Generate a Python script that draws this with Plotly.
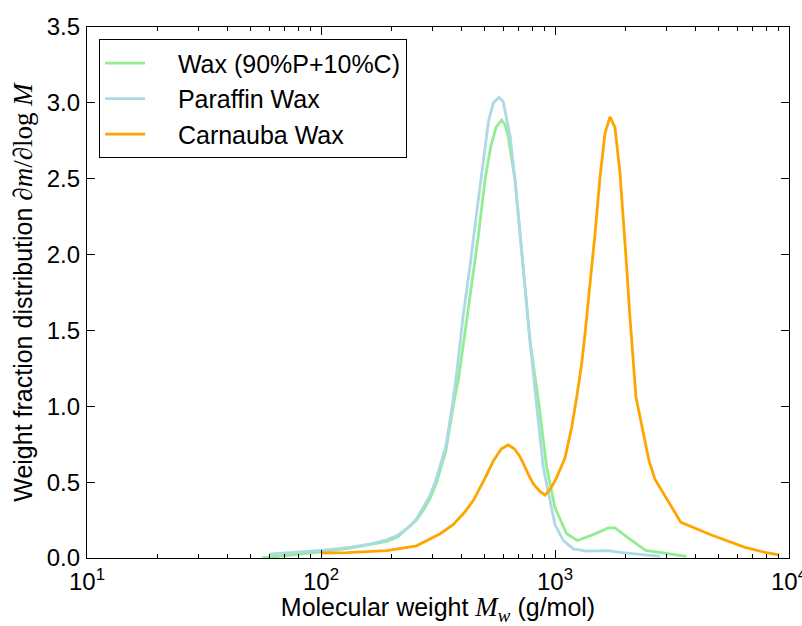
import plotly.graph_objects as go

# Molecular weight (g/mol) and weight-fraction distribution for each sample
mix_mw = [56, 100, 133, 191, 213, 256, 275, 292, 309, 341, 371, 386, 412, 440, 470,
          502, 531, 560, 591, 610, 631, 675, 708, 745, 782, 849, 921, 1000, 1122,
          1245, 1458, 1690, 1804, 2090, 2440, 3650]
mix_w = [0.0, 0.04, 0.065, 0.11, 0.14, 0.25, 0.32, 0.39, 0.48, 0.70, 1.04, 1.17, 1.48,
         1.79, 2.12, 2.49, 2.71, 2.84, 2.886, 2.86, 2.78, 2.49, 2.14, 1.79, 1.43, 1.04,
         0.60, 0.33, 0.16, 0.115, 0.154, 0.198, 0.198, 0.125, 0.05, 0.01]

paraffin_mw = [60, 100, 133, 160, 191, 213, 240, 256, 275, 292, 309, 325, 341, 362,
               380, 406, 433, 462, 494, 520, 545, 577, 600, 625, 643, 675, 708, 745,
               782, 830, 891, 952, 1000, 1086, 1197, 1365, 1690, 1897, 2810]
paraffin_w = [0.025, 0.05, 0.07, 0.09, 0.12, 0.15, 0.21, 0.26, 0.34, 0.41, 0.51, 0.62,
              0.73, 0.98, 1.22, 1.61, 1.92, 2.27, 2.62, 2.88, 3.0, 3.036, 3.01, 2.88,
              2.78, 2.49, 2.14, 1.79, 1.43, 1.04, 0.60, 0.38, 0.22, 0.115, 0.06, 0.045,
              0.048, 0.037, 0.01]

carnauba_mw = [100, 129, 191, 256, 323, 367, 410, 448, 500, 545, 590, 631, 670, 708,
               776, 807, 860, 906, 960, 1016, 1104, 1178, 1238, 1300, 1344, 1412, 1483,
               1557, 1636, 1718, 1803, 1895, 1958, 2024, 2090, 2161, 2218, 2523, 2673,
               3450, 4690, 6490, 8000, 9060]
carnauba_w = [0.033, 0.035, 0.048, 0.08, 0.16, 0.22, 0.30, 0.38, 0.52, 0.64, 0.72,
              0.745, 0.72, 0.67, 0.54, 0.49, 0.44, 0.415, 0.46, 0.53, 0.66, 0.86, 1.06,
              1.28, 1.48, 1.79, 2.14, 2.51, 2.80, 2.908, 2.84, 2.54, 2.25, 1.92, 1.59,
              1.30, 1.06, 0.64, 0.52, 0.235, 0.15, 0.07, 0.035, 0.02]

x_tick_vals = [10, 100, 1000, 10000]
x_tick_text = ["10<sup>1</sup>", "10<sup>2</sup>", "10<sup>3</sup>", "10<sup>4</sup>"]

series = [
    ("Wax (90%P+10%C)", mix_mw, mix_w, "#90EE90"),
    ("Paraffin Wax", paraffin_mw, paraffin_w, "#ADD8E6"),
    ("Carnauba Wax", carnauba_mw, carnauba_w, "#FFA500"),
]

FONT = "Liberation Sans, Arial, sans-serif"
MATH = "font-family:'Liberation Serif','DejaVu Serif',serif;font-size:27px"
PAD = "\u00a0" * 4  # gap between legend swatch and label

fig = go.Figure()
for name, x, y, color in series:
    fig.add_trace(go.Scatter(x=x, y=y, mode="lines", name=PAD + name,
                             line=dict(color=color, width=2.8)))

axis_common = dict(showline=True, linecolor="black", linewidth=1.2, mirror="ticks",
                   ticks="inside", tickcolor="black", ticklen=8, tickwidth=1,
                   showgrid=False, zeroline=False, ticklabeloverflow="allow",
                   tickfont=dict(family=FONT, size=24, color="black"))

fig.update_xaxes(type="log", range=[1, 4], tickvals=x_tick_vals, ticktext=x_tick_text,
                 minor=dict(ticks="inside", ticklen=4, tickcolor="black", dtick="D1",
                            showgrid=False),
                 title=dict(text=f"Molecular weight <span style=\"{MATH}\"><i>M<sub>w</sub></i></span> (g/mol)",
                            font=dict(family=FONT, size=25, color="black"), standoff=9),
                 ticklabelstandoff=2,
                 **axis_common)
fig.update_yaxes(range=[0, 3.5], dtick=0.5, tickformat=".1f",
                 title=dict(text=f"Weight fraction distribution <span style=\"{MATH}\">∂<i>m</i>/∂log <i>M</i></span>",
                            font=dict(family=FONT, size=25, color="black"), standoff=6),
                 ticklabelstandoff=1,
                 **axis_common)

fig.update_layout(
    width=802, height=626,
    margin=dict(l=87, r=13, t=27, b=68, autoexpand=False),
    paper_bgcolor="white", plot_bgcolor="white",
    font=dict(family=FONT, color="black"),
    legend=dict(x=0.017, y=0.977, xanchor="left", yanchor="top",
                bgcolor="white", bordercolor="black", borderwidth=1.2,
                font=dict(family=FONT, size=25, color="black"),
                itemwidth=40),
    showlegend=True,
)

fig.write_html("out.html")
